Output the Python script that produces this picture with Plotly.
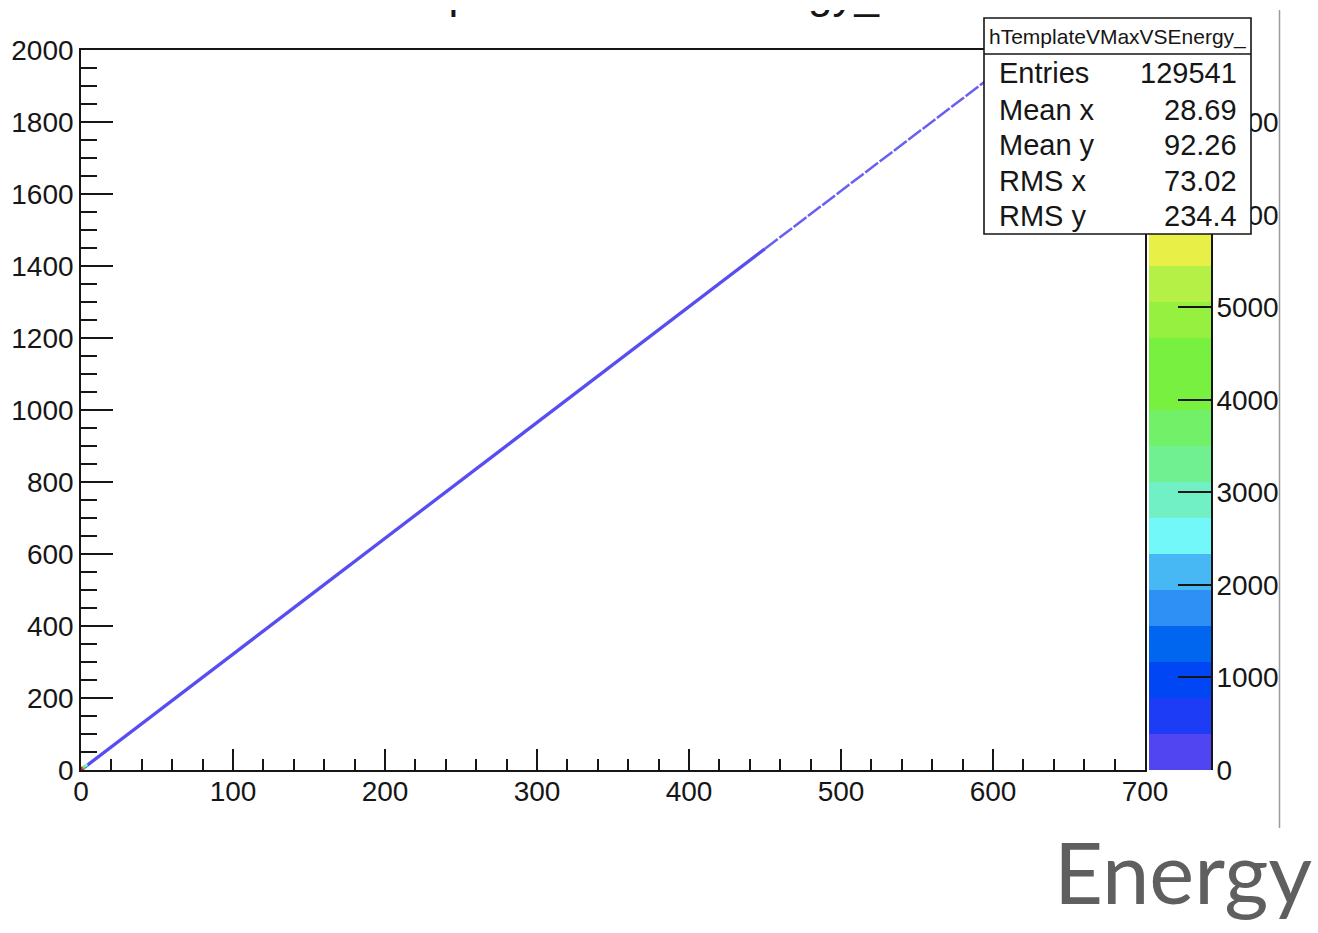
import plotly.graph_objects as go

W, H = 1318, 933

# ---- data -------------------------------------------------------------
hist_name = "hTemplateVMaxVSEnergy_"

# ridge of the 2D histogram: template VMax versus energy
energy = [0, 50, 100, 150, 200, 250, 300, 350, 400, 450, 500, 550, 600, 622]
vmax = [0, 161, 322, 482, 643, 804, 965, 1126, 1287, 1448, 1609, 1770, 1930, 2000]
dense_until = 450          # above this energy the ridge is sparsely populated

# the few crowded bins right at the origin
peak_energy = [0.6, 2.0, 3.3]
peak_vmax = [5, 8, 13]
peak_counts = [7700, 4400, 2500]

# palette axis: 20 equal contours
levels = [0, 389, 778, 1167, 1556, 1945, 2334, 2723, 3112, 3501, 3890,
          4279, 4668, 5057, 5446, 5835, 6224, 6613, 7002, 7391, 7780]
palette = ["#5045f0", "#1c3cf5", "#0046f5", "#0066f0", "#2e90f5", "#48b8f5",
           "#72f8f8", "#70f0c4", "#70f090", "#72f068", "#78f040", "#78f040",
           "#96f040", "#b4f046", "#e8f048", "#f0c040", "#f09438", "#f06a30",
           "#f04028", "#e01e1e"]

stat_labels = ["Entries", "Mean x", "Mean y", "RMS x", "RMS y"]
stat_values = ["129541", "28.69", "92.26", "73.02", "234.4"]

x_range = [0, 700]
y_range = [0, 2000]

# ---- helpers ----------------------------------------------------------
def px(x):
    return x / W

def py(y):
    return 1 - y / H

FONT = "Liberation Sans, Arial, Helvetica, sans-serif"
INK = "#161616"

zmax = levels[-1]
n = len(palette)
colorscale = []
for i, c in enumerate(palette):
    colorscale.append([i / n, c])
    colorscale.append([(i + 1) / n, c])

fig = go.Figure()

# ---- ridge ------------------------------------------------------------
split = energy.index(dense_until)
fig.add_trace(go.Scatter(
    x=energy[:split + 1], y=vmax[:split + 1], mode="lines",
    line=dict(color=palette[0], width=3.3), opacity=0.95,
    hoverinfo="skip", showlegend=False))
fig.add_trace(go.Scatter(
    x=energy[split:], y=vmax[split:], mode="lines",
    line=dict(color=palette[0], width=2.5, dash="16px,2px"), opacity=0.85,
    hoverinfo="skip", showlegend=False))
fig.add_trace(go.Scatter(
    x=peak_energy, y=peak_vmax, mode="markers",
    marker=dict(symbol="square", size=3, color=peak_counts,
                colorscale=colorscale, cmin=0, cmax=zmax, line=dict(width=0)),
    hoverinfo="skip", showlegend=False))

# ---- palette axis -----------------------------------------------------
band_mid = [[(levels[i] + levels[i + 1]) / 2] for i in range(n)]
fig.add_trace(go.Heatmap(
    x=[0, 1], y=levels, z=band_mid, xaxis="x2", yaxis="y2",
    colorscale=colorscale, zmin=0, zmax=zmax, showscale=False,
    hoverinfo="skip"))

x_dom = [px(81), px(1145)]
y_dom = [py(770), py(50)]

tickfont = dict(family=FONT, size=28, color=INK)

fig.update_layout(
    width=W, height=H, autosize=False,
    margin=dict(l=0, r=0, t=0, b=0, autoexpand=False),
    paper_bgcolor="white", plot_bgcolor="white",
    showlegend=False,
    xaxis=dict(
        domain=x_dom, range=x_range, anchor="y", automargin=False,
        showline=True, mirror=True, linecolor=INK, linewidth=1.6,
        ticks="inside", ticklen=21, tickwidth=1.5, tickcolor=INK,
        tick0=0, dtick=100, tickfont=tickfont, ticklabelstandoff=-4,
        minor=dict(ticks="inside", dtick=20, ticklen=11, tickwidth=1.5,
                   tickcolor=INK, showgrid=False),
        showgrid=False, zeroline=False,
    ),
    yaxis=dict(
        domain=y_dom, range=y_range, anchor="x", automargin=False,
        showline=True, mirror=True, linecolor=INK, linewidth=1.6,
        ticks="inside", ticklen=32, tickwidth=1.5, tickcolor=INK,
        tick0=0, dtick=200, tickfont=tickfont,
        minor=dict(ticks="inside", dtick=50, ticklen=16, tickwidth=1.5,
                   tickcolor=INK, showgrid=False),
        showgrid=False, zeroline=False,
    ),
    xaxis2=dict(domain=[px(1149), px(1211)], range=[0, 1], anchor="y2",
                visible=False, automargin=False),
    yaxis2=dict(
        domain=y_dom, range=[0, zmax], anchor="x2", side="right",
        automargin=False,
        showline=True, linecolor=INK, linewidth=1.6,
        ticks="inside", ticklen=33, tickwidth=1.5, tickcolor=INK,
        tick0=0, dtick=1000, tickfont=tickfont, ticklabelstandoff=-2,
        showgrid=False, zeroline=False,
    ),
)

# ---- statistics box ---------------------------------------------------
box_l, box_r, box_t, box_b, head_b = 984, 1251, 18, 234, 54
shapes = [
    dict(type="rect", xref="paper", yref="paper", layer="above",
         x0=px(box_l), x1=px(box_r), y0=py(box_b), y1=py(box_t),
         fillcolor="white", line=dict(color=INK, width=1.6)),
    dict(type="line", xref="paper", yref="paper", layer="above",
         x0=px(box_l), x1=px(box_r), y0=py(head_b), y1=py(head_b),
         line=dict(color=INK, width=1.4)),
    # canvas edge on the right
    dict(type="rect", xref="paper", yref="paper", layer="above",
         x0=px(1280), x1=1, y0=py(830), y1=1,
         fillcolor="white", line=dict(width=0)),
    dict(type="line", xref="paper", yref="paper", layer="above",
         x0=px(1279.5), x1=px(1279.5), y0=py(828), y1=1,
         line=dict(color="#9c9c9c", width=1.5)),
]
fig.update_layout(shapes=shapes)

ann = []
# histogram title, running off the top of the page
ann.append(dict(text=hist_name, xref="paper", yref="paper",
                x=px(338.5), y=py(19), xanchor="left", yanchor="bottom",
                showarrow=False, font=dict(family=FONT, size=44, color=INK)))
# white band along the top edge
ann.append(dict(text=".", xref="paper", yref="paper", x=0, y=1,
                xanchor="left", yanchor="top", width=W, height=10,
                bgcolor="white", borderpad=0, borderwidth=0,
                font=dict(size=8, color="white"), showarrow=False))

ann.append(dict(text=hist_name, xref="paper", yref="paper",
                x=px((box_l + box_r) / 2), y=py(37), xanchor="center",
                yanchor="middle", showarrow=False,
                font=dict(family=FONT, size=21, color=INK)))
row_y = [73.5, 109.5, 145, 181, 216]
for lab, val, yy in zip(stat_labels, stat_values, row_y):
    ann.append(dict(text=lab, xref="paper", yref="paper", x=px(997), y=py(yy),
                    xanchor="left", yanchor="middle", showarrow=False,
                    font=dict(family=FONT, size=29, color=INK)))
    ann.append(dict(text=val, xref="paper", yref="paper", x=px(1239), y=py(yy),
                    xanchor="right", yanchor="middle", showarrow=False,
                    font=dict(family=FONT, size=29, color=INK)))

# slide caption
ann.append(dict(text="Energy", xref="paper", yref="paper", x=px(1052),
                y=py(924), xanchor="left", yanchor="bottom", showarrow=False,
                font=dict(family="Lato, Open Sans, sans-serif", size=85,
                          color="#5f5f5f")))
fig.update_layout(annotations=ann)

fig.write_html("out.html")
